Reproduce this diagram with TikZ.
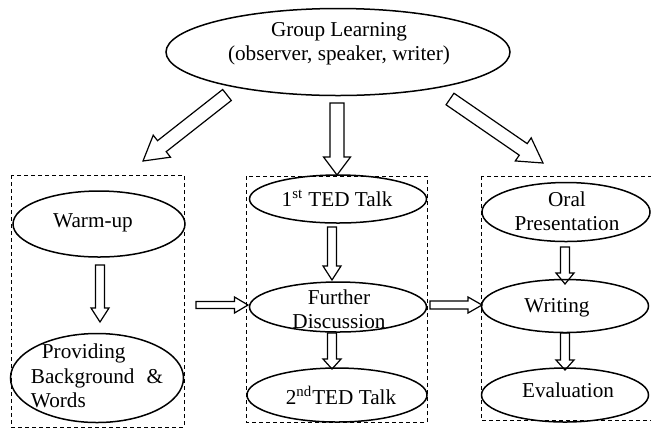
\documentclass[tikz,border=0pt]{standalone}
\usepackage{fontspec}
\setmainfont{Liberation Serif}
\usetikzlibrary{calc,shapes.geometric}
\def\blockarrow[#1](#2)(#3)(#4:#5:#6){\coordinate (hb) at ($(#3)!#6!(#2)$);
	\draw[#1] ($(#2)!#4!90:(#3)$) -- ($(hb)!#4!90:(#3)$) -- ($(hb)!#5!90:(#3)$) -- (#3) -- ($(hb)!#5!-90:(#3)$) -- ($(hb)!#4!-90:(#3)$) -- ($(#2)!#4!-90:(#3)$) -- cycle;}

\begin{document}
\begin{tikzpicture}[x=0.5pt,y=-0.5pt,
	ell/.style={draw,ellipse,line width=0.75pt,inner sep=0pt},
	txt/.style={inner sep=0pt,align=center,font=\fontsize{10.6}{12.2}\selectfont},
	dashbox/.style={line width=0.5pt,dash pattern=on 2pt off 1.5pt},
	blk/.style={line width=0.6pt,line join=miter}]
				\useasboundingbox (0,0) rectangle (651,430);
				
				\draw[dashbox] (11,175) rectangle (184,427);
				\draw[dashbox] (246,176) rectangle (427,422);
				\draw[dashbox] (481,176) rectangle (662,420);
				
				\node[ell, minimum width=172pt, minimum height=43.5pt] (grp) at (338,52) {};
				\node[txt] (grpT) at (339,44) {Group Learning\\(observer, speaker, writer)};
				
				\node[ell, minimum width=86pt, minimum height=33pt] (warm) at (99,224) {};
				\node[txt] (warmT) at (93,223) {Warm-up};
				\node[ell, minimum width=86.5pt, minimum height=44.5pt] (prov) at (97,378) {};
				\node[txt, align=left] (provT) at (97,376) {\hspace{5.5pt}Providing\\Background\hspace{6pt}\&\\Words};
				
				\node[ell, minimum width=88.5pt, minimum height=24pt] (ted1) at (338,199) {};
				\node[txt] (ted1T) at (337,198) {1\textsuperscript{st} TED Talk};
				\node[ell, minimum width=88.5pt, minimum height=25pt] (disc) at (338,307) {};
				\node[txt] (discT) at (339,309) {Further\\Discussion};
				\node[ell, minimum width=90pt, minimum height=27pt] (ted2) at (337,395) {};
				\node[txt] (ted2T) at (341,395) {2\textsuperscript{nd}TED Talk};
				
				\node[ell, minimum width=84pt, minimum height=29.5pt] (oral) at (566,212) {};
				\node[txt] (oralT) at (567,211) {Oral\\Presentation};
				\node[ell, minimum width=83.5pt, minimum height=26.5pt] (writ) at (565,306) {};
				\node[txt] (writT) at (557,308) {Writing};
				\node[ell, minimum width=83.5pt, minimum height=27pt] (eval) at (565,395) {};
				\node[txt] (evalT) at (568,390) {Evaluation};
				
				\coordinate (grpL) at (227,95);
				\coordinate (warmN) at (143,161);
				\coordinate (grpS) at (337,103);
				\coordinate (ted1N) at (337,175);
				\coordinate (grpR) at (450,99);
				\coordinate (oralN) at (543,163);
				\coordinate (warmS) at (100,265);
				\coordinate (provN) at (100,322);
				\coordinate (ted1S) at (332,227);
				\coordinate (discN) at (332,280);
				\coordinate (discS) at (332,333);
				\coordinate (ted2N) at (332,369);
				\coordinate (oralS) at (565,247);
				\coordinate (writN) at (565,284);
				\coordinate (writS) at (565,333);
				\coordinate (evalN) at (565,370);
				\coordinate (boxL) at (196,305);
				\coordinate (discW) at (248,305);
				\coordinate (discE) at (430,305);
				\coordinate (writW) at (482,305);
				
				\blockarrow[blk](grpL)(warmN)(3.5pt:7pt:12pt)
				\blockarrow[blk](grpS)(ted1N)(3.5pt:6.75pt:9pt)
				\blockarrow[blk](grpR)(oralN)(3.5pt:7pt:12pt)
				\blockarrow[blk](warmS)(provN)(2.25pt:4.5pt:7pt)
				\blockarrow[blk](ted1S)(discN)(2.25pt:4.5pt:7pt)
				\blockarrow[blk](discS)(ted2N)(2.25pt:4.5pt:5pt)
				\blockarrow[blk](oralS)(writN)(2.25pt:4.5pt:5.5pt)
				\blockarrow[blk](writS)(evalN)(2.25pt:4.5pt:5pt)
				\blockarrow[blk](boxL)(discW)(1.75pt:4pt:6.75pt)
				\blockarrow[blk](discE)(writW)(2pt:4pt:7pt)
			\end{tikzpicture}
\end{document}
